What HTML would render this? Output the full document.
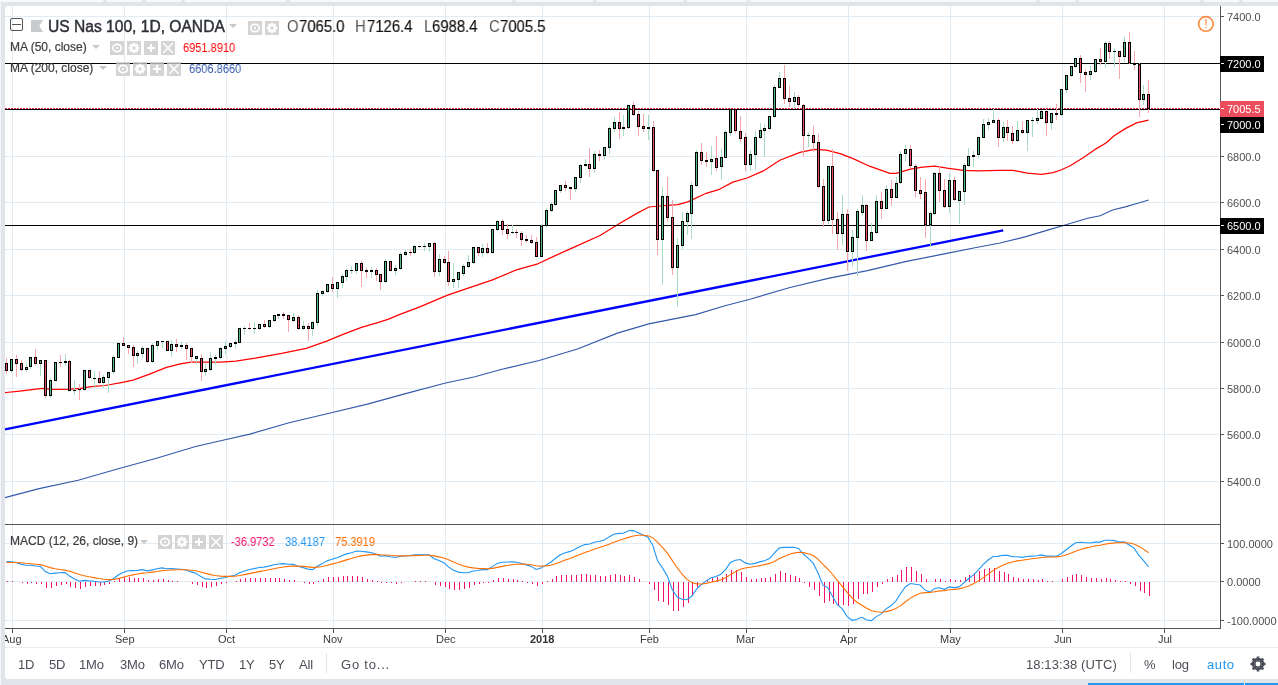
<!DOCTYPE html>
<html><head><meta charset="utf-8">
<style>
.t,.pl,.pb span,.tl,.bt{will-change:transform;}
html,body{margin:0;padding:0;width:1278px;height:685px;overflow:hidden;background:#e1e4e8;font-family:"Liberation Sans",sans-serif;}
.abs{position:absolute;}
#panel{position:absolute;left:5px;top:6px;width:1273px;height:673px;background:#fff;border-radius:3px 0 0 3px;}
.tab{position:absolute;top:-3px;height:5px;background:#f8f9fb;border-radius:0 0 3px 3px;}
svg{position:absolute;left:0;top:0;}
.t{position:absolute;white-space:nowrap;line-height:1;}
.pl{position:absolute;left:1227px;font-size:11px;color:#4f4f4f;line-height:1;white-space:nowrap;}
.pb{position:absolute;left:1220px;width:44px;height:16px;background:#000;color:#fff;}
.pb span{position:absolute;left:7px;top:3px;font-size:11px;line-height:1;}
.tl{position:absolute;top:634px;font-size:11px;color:#3a3a3a;line-height:1;white-space:nowrap;}
.ohlc{top:19px;font-size:16px;transform:scaleX(0.93);transform-origin:0 0;}
.ohlc.v{color:#111;-webkit-text-stroke:0.15px #111;}
.val{font-size:12px;transform:scaleX(0.92);transform-origin:0 0;}
.ic{position:absolute;shape-rendering:geometricPrecision;}
.bt{position:absolute;top:658px;font-size:13px;letter-spacing:-0.2px;color:#4b4e57;line-height:1;white-space:nowrap;}
</style></head><body>
<div class="tab" style="left:0px;width:104px"></div>
<div class="tab" style="left:106px;width:37px"></div>
<div class="tab" style="left:145px;width:37px"></div>
<div class="tab" style="left:184px;width:103px"></div>
<div class="tab" style="left:289px;width:224px"></div>
<div class="tab" style="left:515px;width:79px"></div>
<div class="tab" style="left:596px;width:88px"></div>
<div class="tab" style="left:686px;width:61px"></div>
<div class="tab" style="left:749px;width:288px"></div>
<div class="tab" style="left:1039px;width:37px"></div>
<div class="tab" style="left:1078px;width:123px"></div>
<div class="tab" style="left:1203px;width:37px"></div>
<div class="tab" style="left:1242px;width:40px"></div>
<div class="abs" style="left:1088px;top:683px;width:156px;height:2px;background:#2196f3"></div>
<div class="abs" style="left:1245px;top:683px;width:33px;height:2px;background:#2196f3"></div>
<div class="abs" style="left:0;top:0;width:1px;height:685px;background:#f4f5f7"></div>
<div id="panel"></div>
<svg width="0" height="0" style="position:absolute"><defs>
<g id="i-eye"><rect width="14" height="14" fill="#c9c9c9" fill-opacity="0.8"/><ellipse cx="7" cy="7" rx="4.3" ry="3.6" fill="none" stroke="#fff" stroke-width="1.7"/><circle cx="7" cy="7" r="1.1" fill="#fff"/></g>
<g id="i-gear"><rect width="14" height="14" fill="#c9c9c9" fill-opacity="0.8"/><g transform="translate(7,7)" fill="#fff"><circle r="3.8"/><rect x="-1.2" y="-5.2" width="2.4" height="10.4"/><rect x="-1.2" y="-5.2" width="2.4" height="10.4" transform="rotate(45)"/><rect x="-1.2" y="-5.2" width="2.4" height="10.4" transform="rotate(90)"/><rect x="-1.2" y="-5.2" width="2.4" height="10.4" transform="rotate(135)"/><circle r="1.7" fill="#d4d4d4"/></g></g>
<g id="i-plus"><rect width="14" height="14" fill="#c9c9c9" fill-opacity="0.8"/><rect x="6" y="3" width="2" height="8" fill="#fff"/><rect x="3" y="6" width="8" height="2" fill="#fff"/></g>
<g id="i-x"><rect width="14" height="14" fill="#c9c9c9" fill-opacity="0.8"/><path d="M2.3 2.3L11.7 11.7M11.7 2.3L2.3 11.7" stroke="#fff" stroke-width="1.5"/></g>
</defs></svg>
<svg width="1278" height="685" viewBox="0 0 1278 685" shape-rendering="crispEdges">
<rect x="12" y="6" width="1" height="622" fill="#e1ebf3"/>
<rect x="124" y="6" width="1" height="622" fill="#e1ebf3"/>
<rect x="226" y="6" width="1" height="622" fill="#e1ebf3"/>
<rect x="333" y="6" width="1" height="622" fill="#e1ebf3"/>
<rect x="445" y="6" width="1" height="622" fill="#e1ebf3"/>
<rect x="542" y="6" width="1" height="622" fill="#e1ebf3"/>
<rect x="649" y="6" width="1" height="622" fill="#e1ebf3"/>
<rect x="746" y="6" width="1" height="622" fill="#e1ebf3"/>
<rect x="848" y="6" width="1" height="622" fill="#e1ebf3"/>
<rect x="950" y="6" width="1" height="622" fill="#e1ebf3"/>
<rect x="1062" y="6" width="1" height="622" fill="#e1ebf3"/>
<rect x="1164" y="6" width="1" height="622" fill="#e1ebf3"/>
<rect x="5" y="16" width="1214" height="1" fill="#e1ebf3"/>
<rect x="5" y="63" width="1214" height="1" fill="#e1ebf3"/>
<rect x="5" y="109" width="1214" height="1" fill="#e1ebf3"/>
<rect x="5" y="156" width="1214" height="1" fill="#e1ebf3"/>
<rect x="5" y="202" width="1214" height="1" fill="#e1ebf3"/>
<rect x="5" y="249" width="1214" height="1" fill="#e1ebf3"/>
<rect x="5" y="295" width="1214" height="1" fill="#e1ebf3"/>
<rect x="5" y="342" width="1214" height="1" fill="#e1ebf3"/>
<rect x="5" y="388" width="1214" height="1" fill="#e1ebf3"/>
<rect x="5" y="434" width="1214" height="1" fill="#e1ebf3"/>
<rect x="5" y="481" width="1214" height="1" fill="#e1ebf3"/>
<rect x="5" y="543" width="1214" height="1" fill="#e1ebf3"/>
<rect x="5" y="581" width="1214" height="1" fill="#e1ebf3"/>
<rect x="5" y="620" width="1214" height="1" fill="#e1ebf3"/>
<polyline points="5.0,497.6 5.9,497.4 39.1,488.6 78.2,480.2 117.4,469.0 156.5,458.2 195.6,446.5 225.0,439.7 250.0,434.1 289.1,422.7 328.2,413.5 367.4,404.1 406.5,393.4 445.6,383.0 475.0,376.7 500.0,369.8 539.1,360.5 578.2,348.8 617.4,333.1 648.7,323.9 695.6,314.6 725.0,305.8 750.0,299.2 789.1,287.8 828.2,278.4 867.4,270.6 906.5,261.4 945.6,253.6 975.0,247.7 1000.0,243.0 1025.0,236.9 1050.1,229.4 1062.6,225.7 1087.6,218.2 1100.1,215.7 1112.6,210.0 1125.2,206.9 1137.7,203.2 1148.7,200.0" fill="none" stroke="#3559aa" stroke-width="1.15" shape-rendering="geometricPrecision"/>
<polyline points="5.0,392.6 6.1,392.5 17.5,391.4 28.0,390.2 42.0,388.4 52.5,389.3 66.5,389.3 80.6,388.4 91.1,386.7 105.1,385.5 122.6,382.3 133.1,380.2 148.9,374.4 166.4,367.4 180.4,363.9 190.9,362.2 200.0,362.2 220.4,362.2 235.8,361.1 255.2,358.1 281.7,353.4 306.2,348.3 326.7,341.1 343.0,334.4 361.4,327.4 377.7,322.7 387.9,319.3 400.0,314.4 420.4,306.7 447.0,295.4 467.4,288.3 491.9,280.1 516.4,269.9 536.9,264.2 555.3,255.6 573.6,247.4 600.0,235.5 620.4,223.0 636.8,213.4 649.0,207.0 659.2,206.0 677.6,204.6 687.8,201.9 706.2,193.3 718.5,189.7 732.8,182.1 747.1,178.0 763.4,170.9 779.8,160.2 800.0,152.3 814.3,149.4 826.6,150.2 840.9,153.9 853.1,158.6 869.5,166.2 889.9,173.3 896.0,173.3 910.3,169.2 922.6,167.2 934.8,166.2 947.1,168.2 963.4,170.3 977.7,170.9 1000.0,170.3 1012.9,170.3 1027.3,173.2 1041.8,174.3 1053.0,172.7 1061.0,170.0 1070.7,165.5 1083.5,157.5 1096.4,148.6 1106.0,143.0 1114.1,135.8 1125.3,128.6 1136.5,122.9 1148.6,120.2" fill="none" stroke="#ff0000" stroke-width="1.25" shape-rendering="geometricPrecision"/>
<line x1="5" y1="429.3" x2="1003.2" y2="230.3" stroke="#0000ff" stroke-width="2.3" stroke-linecap="butt" shape-rendering="geometricPrecision"/>
<rect x="5" y="63" width="1215" height="1" fill="#000"/>
<rect x="5" y="109" width="1215" height="1" fill="#000"/>
<rect x="5" y="225" width="1215" height="1" fill="#000"/>
<line x1="5" y1="108.5" x2="1220" y2="108.5" stroke="#e3213f" stroke-width="1" stroke-dasharray="2,1" shape-rendering="crispEdges"/>
<rect x="6" y="358" width="1" height="16" fill="#f5a6ad"/>
<rect x="5" y="363" width="3" height="8" fill="#000"/>
<rect x="6" y="364" width="1" height="6" fill="#eb4d5c"/>
<rect x="11" y="359" width="1" height="14" fill="#a9dcc3"/>
<rect x="10" y="359" width="3" height="12" fill="#000"/>
<rect x="11" y="360" width="1" height="10" fill="#53b987"/>
<rect x="16" y="355" width="1" height="22" fill="#f5a6ad"/>
<rect x="15" y="359" width="3" height="5" fill="#000"/>
<rect x="16" y="360" width="1" height="3" fill="#eb4d5c"/>
<rect x="21" y="360" width="1" height="11" fill="#f5a6ad"/>
<rect x="20" y="363" width="3" height="7" fill="#000"/>
<rect x="21" y="364" width="1" height="5" fill="#eb4d5c"/>
<rect x="26" y="363" width="1" height="9" fill="#a9dcc3"/>
<rect x="25" y="367" width="3" height="3" fill="#000"/>
<rect x="26" y="368" width="1" height="1" fill="#53b987"/>
<rect x="30" y="357" width="1" height="12" fill="#a9dcc3"/>
<rect x="29" y="357" width="3" height="10" fill="#000"/>
<rect x="30" y="358" width="1" height="8" fill="#53b987"/>
<rect x="35" y="349" width="1" height="16" fill="#f5a6ad"/>
<rect x="34" y="357" width="3" height="7" fill="#000"/>
<rect x="35" y="358" width="1" height="5" fill="#eb4d5c"/>
<rect x="40" y="360" width="1" height="16" fill="#a9dcc3"/>
<rect x="39" y="360" width="3" height="4" fill="#000"/>
<rect x="40" y="361" width="1" height="2" fill="#53b987"/>
<rect x="45" y="360" width="1" height="38" fill="#f5a6ad"/>
<rect x="44" y="360" width="3" height="36" fill="#000"/>
<rect x="45" y="361" width="1" height="34" fill="#eb4d5c"/>
<rect x="50" y="378" width="1" height="20" fill="#a9dcc3"/>
<rect x="49" y="380" width="3" height="16" fill="#000"/>
<rect x="50" y="381" width="1" height="14" fill="#53b987"/>
<rect x="55" y="362" width="1" height="19" fill="#a9dcc3"/>
<rect x="54" y="362" width="3" height="19" fill="#000"/>
<rect x="55" y="363" width="1" height="17" fill="#53b987"/>
<rect x="60" y="355" width="1" height="12" fill="#f5a6ad"/>
<rect x="59" y="362" width="3" height="1" fill="#000"/>
<rect x="65" y="354" width="1" height="12" fill="#a9dcc3"/>
<rect x="64" y="361" width="3" height="2" fill="#000"/>
<rect x="69" y="360" width="1" height="31" fill="#f5a6ad"/>
<rect x="68" y="361" width="3" height="30" fill="#000"/>
<rect x="69" y="362" width="1" height="28" fill="#eb4d5c"/>
<rect x="74" y="380" width="1" height="15" fill="#a9dcc3"/>
<rect x="73" y="390" width="3" height="1" fill="#000"/>
<rect x="79" y="384" width="1" height="16" fill="#f5a6ad"/>
<rect x="78" y="389" width="3" height="1" fill="#000"/>
<rect x="84" y="370" width="1" height="21" fill="#a9dcc3"/>
<rect x="83" y="370" width="3" height="20" fill="#000"/>
<rect x="84" y="371" width="1" height="18" fill="#53b987"/>
<rect x="89" y="370" width="1" height="9" fill="#f5a6ad"/>
<rect x="88" y="370" width="3" height="8" fill="#000"/>
<rect x="89" y="371" width="1" height="6" fill="#eb4d5c"/>
<rect x="94" y="371" width="1" height="17" fill="#a9dcc3"/>
<rect x="93" y="378" width="3" height="1" fill="#000"/>
<rect x="99" y="371" width="1" height="13" fill="#f5a6ad"/>
<rect x="98" y="378" width="3" height="5" fill="#000"/>
<rect x="99" y="379" width="1" height="3" fill="#eb4d5c"/>
<rect x="103" y="375" width="1" height="13" fill="#a9dcc3"/>
<rect x="102" y="377" width="3" height="6" fill="#000"/>
<rect x="103" y="378" width="1" height="4" fill="#53b987"/>
<rect x="108" y="372" width="1" height="21" fill="#a9dcc3"/>
<rect x="107" y="372" width="3" height="6" fill="#000"/>
<rect x="108" y="373" width="1" height="4" fill="#53b987"/>
<rect x="113" y="355" width="1" height="19" fill="#a9dcc3"/>
<rect x="112" y="357" width="3" height="15" fill="#000"/>
<rect x="113" y="358" width="1" height="13" fill="#53b987"/>
<rect x="118" y="342" width="1" height="16" fill="#a9dcc3"/>
<rect x="117" y="343" width="3" height="15" fill="#000"/>
<rect x="118" y="344" width="1" height="13" fill="#53b987"/>
<rect x="123" y="337" width="1" height="9" fill="#f5a6ad"/>
<rect x="122" y="343" width="3" height="3" fill="#000"/>
<rect x="123" y="344" width="1" height="1" fill="#eb4d5c"/>
<rect x="128" y="345" width="1" height="9" fill="#f5a6ad"/>
<rect x="127" y="345" width="3" height="3" fill="#000"/>
<rect x="128" y="346" width="1" height="1" fill="#eb4d5c"/>
<rect x="133" y="345" width="1" height="22" fill="#f5a6ad"/>
<rect x="132" y="347" width="3" height="9" fill="#000"/>
<rect x="133" y="348" width="1" height="7" fill="#eb4d5c"/>
<rect x="137" y="350" width="1" height="14" fill="#a9dcc3"/>
<rect x="136" y="353" width="3" height="3" fill="#000"/>
<rect x="137" y="354" width="1" height="1" fill="#53b987"/>
<rect x="142" y="346" width="1" height="12" fill="#a9dcc3"/>
<rect x="141" y="348" width="3" height="6" fill="#000"/>
<rect x="142" y="349" width="1" height="4" fill="#53b987"/>
<rect x="147" y="348" width="1" height="15" fill="#f5a6ad"/>
<rect x="146" y="348" width="3" height="14" fill="#000"/>
<rect x="147" y="349" width="1" height="12" fill="#eb4d5c"/>
<rect x="152" y="343" width="1" height="20" fill="#a9dcc3"/>
<rect x="151" y="345" width="3" height="17" fill="#000"/>
<rect x="152" y="346" width="1" height="15" fill="#53b987"/>
<rect x="157" y="341" width="1" height="9" fill="#a9dcc3"/>
<rect x="156" y="341" width="3" height="5" fill="#000"/>
<rect x="157" y="342" width="1" height="3" fill="#53b987"/>
<rect x="162" y="341" width="1" height="7" fill="#a9dcc3"/>
<rect x="161" y="341" width="3" height="1" fill="#000"/>
<rect x="167" y="341" width="1" height="10" fill="#f5a6ad"/>
<rect x="166" y="341" width="3" height="10" fill="#000"/>
<rect x="167" y="342" width="1" height="8" fill="#eb4d5c"/>
<rect x="171" y="340" width="1" height="17" fill="#a9dcc3"/>
<rect x="170" y="344" width="3" height="7" fill="#000"/>
<rect x="171" y="345" width="1" height="5" fill="#53b987"/>
<rect x="176" y="339" width="1" height="13" fill="#f5a6ad"/>
<rect x="175" y="344" width="3" height="3" fill="#000"/>
<rect x="176" y="345" width="1" height="1" fill="#eb4d5c"/>
<rect x="181" y="342" width="1" height="7" fill="#a9dcc3"/>
<rect x="180" y="345" width="3" height="2" fill="#000"/>
<rect x="186" y="343" width="1" height="17" fill="#f5a6ad"/>
<rect x="185" y="345" width="3" height="4" fill="#000"/>
<rect x="186" y="346" width="1" height="2" fill="#eb4d5c"/>
<rect x="191" y="348" width="1" height="15" fill="#f5a6ad"/>
<rect x="190" y="348" width="3" height="9" fill="#000"/>
<rect x="191" y="349" width="1" height="7" fill="#eb4d5c"/>
<rect x="196" y="356" width="1" height="8" fill="#a9dcc3"/>
<rect x="195" y="356" width="3" height="3" fill="#000"/>
<rect x="196" y="357" width="1" height="1" fill="#53b987"/>
<rect x="201" y="354" width="1" height="27" fill="#f5a6ad"/>
<rect x="200" y="358" width="3" height="14" fill="#000"/>
<rect x="201" y="359" width="1" height="12" fill="#eb4d5c"/>
<rect x="205" y="364" width="1" height="12" fill="#a9dcc3"/>
<rect x="204" y="369" width="3" height="3" fill="#000"/>
<rect x="205" y="370" width="1" height="1" fill="#53b987"/>
<rect x="210" y="352" width="1" height="19" fill="#a9dcc3"/>
<rect x="209" y="358" width="3" height="12" fill="#000"/>
<rect x="210" y="359" width="1" height="10" fill="#53b987"/>
<rect x="215" y="355" width="1" height="10" fill="#a9dcc3"/>
<rect x="214" y="357" width="3" height="2" fill="#000"/>
<rect x="220" y="347" width="1" height="12" fill="#a9dcc3"/>
<rect x="219" y="348" width="3" height="10" fill="#000"/>
<rect x="220" y="349" width="1" height="8" fill="#53b987"/>
<rect x="225" y="341" width="1" height="13" fill="#a9dcc3"/>
<rect x="224" y="346" width="3" height="3" fill="#000"/>
<rect x="225" y="347" width="1" height="1" fill="#53b987"/>
<rect x="230" y="343" width="1" height="5" fill="#a9dcc3"/>
<rect x="229" y="343" width="3" height="4" fill="#000"/>
<rect x="230" y="344" width="1" height="2" fill="#53b987"/>
<rect x="235" y="340" width="1" height="9" fill="#a9dcc3"/>
<rect x="234" y="342" width="3" height="2" fill="#000"/>
<rect x="239" y="328" width="1" height="15" fill="#a9dcc3"/>
<rect x="238" y="328" width="3" height="15" fill="#000"/>
<rect x="239" y="329" width="1" height="13" fill="#53b987"/>
<rect x="244" y="326" width="1" height="9" fill="#a9dcc3"/>
<rect x="243" y="328" width="3" height="1" fill="#000"/>
<rect x="249" y="323" width="1" height="7" fill="#f5a6ad"/>
<rect x="248" y="328" width="3" height="1" fill="#000"/>
<rect x="254" y="322" width="1" height="12" fill="#a9dcc3"/>
<rect x="253" y="328" width="3" height="1" fill="#000"/>
<rect x="259" y="324" width="1" height="6" fill="#a9dcc3"/>
<rect x="258" y="324" width="3" height="5" fill="#000"/>
<rect x="259" y="325" width="1" height="3" fill="#53b987"/>
<rect x="264" y="320" width="1" height="8" fill="#f5a6ad"/>
<rect x="263" y="324" width="3" height="3" fill="#000"/>
<rect x="264" y="325" width="1" height="1" fill="#eb4d5c"/>
<rect x="269" y="320" width="1" height="8" fill="#a9dcc3"/>
<rect x="268" y="320" width="3" height="7" fill="#000"/>
<rect x="269" y="321" width="1" height="5" fill="#53b987"/>
<rect x="274" y="315" width="1" height="7" fill="#a9dcc3"/>
<rect x="273" y="315" width="3" height="6" fill="#000"/>
<rect x="274" y="316" width="1" height="4" fill="#53b987"/>
<rect x="278" y="314" width="1" height="5" fill="#a9dcc3"/>
<rect x="277" y="314" width="3" height="2" fill="#000"/>
<rect x="283" y="312" width="1" height="7" fill="#f5a6ad"/>
<rect x="282" y="314" width="3" height="2" fill="#000"/>
<rect x="288" y="315" width="1" height="17" fill="#f5a6ad"/>
<rect x="287" y="315" width="3" height="5" fill="#000"/>
<rect x="288" y="316" width="1" height="3" fill="#eb4d5c"/>
<rect x="293" y="313" width="1" height="9" fill="#a9dcc3"/>
<rect x="292" y="317" width="3" height="4" fill="#000"/>
<rect x="293" y="318" width="1" height="2" fill="#53b987"/>
<rect x="298" y="315" width="1" height="15" fill="#f5a6ad"/>
<rect x="297" y="317" width="3" height="12" fill="#000"/>
<rect x="298" y="318" width="1" height="10" fill="#eb4d5c"/>
<rect x="303" y="321" width="1" height="9" fill="#a9dcc3"/>
<rect x="302" y="326" width="3" height="3" fill="#000"/>
<rect x="303" y="327" width="1" height="1" fill="#53b987"/>
<rect x="308" y="323" width="1" height="18" fill="#f5a6ad"/>
<rect x="307" y="326" width="3" height="3" fill="#000"/>
<rect x="308" y="327" width="1" height="1" fill="#eb4d5c"/>
<rect x="312" y="321" width="1" height="15" fill="#a9dcc3"/>
<rect x="311" y="322" width="3" height="7" fill="#000"/>
<rect x="312" y="323" width="1" height="5" fill="#53b987"/>
<rect x="317" y="290" width="1" height="36" fill="#a9dcc3"/>
<rect x="316" y="293" width="3" height="30" fill="#000"/>
<rect x="317" y="294" width="1" height="28" fill="#53b987"/>
<rect x="322" y="290" width="1" height="6" fill="#a9dcc3"/>
<rect x="321" y="291" width="3" height="3" fill="#000"/>
<rect x="322" y="292" width="1" height="1" fill="#53b987"/>
<rect x="327" y="284" width="1" height="9" fill="#a9dcc3"/>
<rect x="326" y="284" width="3" height="8" fill="#000"/>
<rect x="327" y="285" width="1" height="6" fill="#53b987"/>
<rect x="332" y="277" width="1" height="15" fill="#f5a6ad"/>
<rect x="331" y="284" width="3" height="5" fill="#000"/>
<rect x="332" y="285" width="1" height="3" fill="#eb4d5c"/>
<rect x="337" y="282" width="1" height="16" fill="#a9dcc3"/>
<rect x="336" y="282" width="3" height="7" fill="#000"/>
<rect x="337" y="283" width="1" height="5" fill="#53b987"/>
<rect x="342" y="274" width="1" height="14" fill="#a9dcc3"/>
<rect x="341" y="276" width="3" height="7" fill="#000"/>
<rect x="342" y="277" width="1" height="5" fill="#53b987"/>
<rect x="346" y="269" width="1" height="12" fill="#a9dcc3"/>
<rect x="345" y="270" width="3" height="7" fill="#000"/>
<rect x="346" y="271" width="1" height="5" fill="#53b987"/>
<rect x="351" y="266" width="1" height="8" fill="#a9dcc3"/>
<rect x="350" y="270" width="3" height="1" fill="#000"/>
<rect x="356" y="263" width="1" height="11" fill="#a9dcc3"/>
<rect x="355" y="263" width="3" height="8" fill="#000"/>
<rect x="356" y="264" width="1" height="6" fill="#53b987"/>
<rect x="361" y="261" width="1" height="26" fill="#f5a6ad"/>
<rect x="360" y="263" width="3" height="8" fill="#000"/>
<rect x="361" y="264" width="1" height="6" fill="#eb4d5c"/>
<rect x="366" y="268" width="1" height="10" fill="#f5a6ad"/>
<rect x="365" y="270" width="3" height="2" fill="#000"/>
<rect x="371" y="267" width="1" height="11" fill="#a9dcc3"/>
<rect x="370" y="270" width="3" height="2" fill="#000"/>
<rect x="376" y="268" width="1" height="13" fill="#f5a6ad"/>
<rect x="375" y="270" width="3" height="5" fill="#000"/>
<rect x="376" y="271" width="1" height="3" fill="#eb4d5c"/>
<rect x="380" y="274" width="1" height="16" fill="#f5a6ad"/>
<rect x="379" y="274" width="3" height="8" fill="#000"/>
<rect x="380" y="275" width="1" height="6" fill="#eb4d5c"/>
<rect x="385" y="259" width="1" height="24" fill="#a9dcc3"/>
<rect x="384" y="261" width="3" height="21" fill="#000"/>
<rect x="385" y="262" width="1" height="19" fill="#53b987"/>
<rect x="390" y="261" width="1" height="10" fill="#f5a6ad"/>
<rect x="389" y="261" width="3" height="10" fill="#000"/>
<rect x="390" y="262" width="1" height="8" fill="#eb4d5c"/>
<rect x="395" y="265" width="1" height="10" fill="#a9dcc3"/>
<rect x="394" y="268" width="3" height="3" fill="#000"/>
<rect x="395" y="269" width="1" height="1" fill="#53b987"/>
<rect x="400" y="252" width="1" height="18" fill="#a9dcc3"/>
<rect x="399" y="254" width="3" height="15" fill="#000"/>
<rect x="400" y="255" width="1" height="13" fill="#53b987"/>
<rect x="405" y="250" width="1" height="6" fill="#a9dcc3"/>
<rect x="404" y="252" width="3" height="3" fill="#000"/>
<rect x="405" y="253" width="1" height="1" fill="#53b987"/>
<rect x="410" y="249" width="1" height="7" fill="#f5a6ad"/>
<rect x="409" y="252" width="3" height="1" fill="#000"/>
<rect x="414" y="245" width="1" height="9" fill="#a9dcc3"/>
<rect x="413" y="246" width="3" height="7" fill="#000"/>
<rect x="414" y="247" width="1" height="5" fill="#53b987"/>
<rect x="419" y="246" width="1" height="2" fill="#a9dcc3"/>
<rect x="418" y="246" width="3" height="1" fill="#000"/>
<rect x="424" y="243" width="1" height="8" fill="#a9dcc3"/>
<rect x="423" y="246" width="3" height="1" fill="#000"/>
<rect x="429" y="243" width="1" height="9" fill="#a9dcc3"/>
<rect x="428" y="243" width="3" height="4" fill="#000"/>
<rect x="429" y="244" width="1" height="2" fill="#53b987"/>
<rect x="434" y="242" width="1" height="35" fill="#f5a6ad"/>
<rect x="433" y="243" width="3" height="29" fill="#000"/>
<rect x="434" y="244" width="1" height="27" fill="#eb4d5c"/>
<rect x="439" y="254" width="1" height="22" fill="#a9dcc3"/>
<rect x="438" y="259" width="3" height="13" fill="#000"/>
<rect x="439" y="260" width="1" height="11" fill="#53b987"/>
<rect x="444" y="256" width="1" height="8" fill="#f5a6ad"/>
<rect x="443" y="259" width="3" height="4" fill="#000"/>
<rect x="444" y="260" width="1" height="2" fill="#eb4d5c"/>
<rect x="448" y="251" width="1" height="35" fill="#f5a6ad"/>
<rect x="447" y="262" width="3" height="20" fill="#000"/>
<rect x="448" y="263" width="1" height="18" fill="#eb4d5c"/>
<rect x="453" y="263" width="1" height="25" fill="#a9dcc3"/>
<rect x="452" y="279" width="3" height="3" fill="#000"/>
<rect x="453" y="280" width="1" height="1" fill="#53b987"/>
<rect x="458" y="272" width="1" height="16" fill="#a9dcc3"/>
<rect x="457" y="272" width="3" height="8" fill="#000"/>
<rect x="458" y="273" width="1" height="6" fill="#53b987"/>
<rect x="463" y="264" width="1" height="12" fill="#a9dcc3"/>
<rect x="462" y="266" width="3" height="8" fill="#000"/>
<rect x="463" y="267" width="1" height="6" fill="#53b987"/>
<rect x="468" y="255" width="1" height="13" fill="#a9dcc3"/>
<rect x="467" y="262" width="3" height="5" fill="#000"/>
<rect x="468" y="263" width="1" height="3" fill="#53b987"/>
<rect x="473" y="247" width="1" height="17" fill="#a9dcc3"/>
<rect x="472" y="247" width="3" height="16" fill="#000"/>
<rect x="473" y="248" width="1" height="14" fill="#53b987"/>
<rect x="478" y="247" width="1" height="9" fill="#f5a6ad"/>
<rect x="477" y="247" width="3" height="6" fill="#000"/>
<rect x="478" y="248" width="1" height="4" fill="#eb4d5c"/>
<rect x="482" y="244" width="1" height="13" fill="#a9dcc3"/>
<rect x="481" y="248" width="3" height="5" fill="#000"/>
<rect x="482" y="249" width="1" height="3" fill="#53b987"/>
<rect x="487" y="243" width="1" height="11" fill="#f5a6ad"/>
<rect x="486" y="248" width="3" height="5" fill="#000"/>
<rect x="487" y="249" width="1" height="3" fill="#eb4d5c"/>
<rect x="492" y="229" width="1" height="25" fill="#a9dcc3"/>
<rect x="491" y="229" width="3" height="24" fill="#000"/>
<rect x="492" y="230" width="1" height="22" fill="#53b987"/>
<rect x="497" y="220" width="1" height="11" fill="#a9dcc3"/>
<rect x="496" y="221" width="3" height="9" fill="#000"/>
<rect x="497" y="222" width="1" height="7" fill="#53b987"/>
<rect x="502" y="219" width="1" height="16" fill="#f5a6ad"/>
<rect x="501" y="221" width="3" height="9" fill="#000"/>
<rect x="502" y="222" width="1" height="7" fill="#eb4d5c"/>
<rect x="507" y="224" width="1" height="15" fill="#f5a6ad"/>
<rect x="506" y="229" width="3" height="5" fill="#000"/>
<rect x="507" y="230" width="1" height="3" fill="#eb4d5c"/>
<rect x="512" y="225" width="1" height="9" fill="#a9dcc3"/>
<rect x="511" y="232" width="3" height="1" fill="#000"/>
<rect x="516" y="229" width="1" height="9" fill="#f5a6ad"/>
<rect x="515" y="232" width="3" height="1" fill="#000"/>
<rect x="521" y="231" width="1" height="15" fill="#f5a6ad"/>
<rect x="520" y="233" width="3" height="7" fill="#000"/>
<rect x="521" y="234" width="1" height="5" fill="#eb4d5c"/>
<rect x="526" y="235" width="1" height="8" fill="#f5a6ad"/>
<rect x="525" y="239" width="3" height="2" fill="#000"/>
<rect x="531" y="235" width="1" height="9" fill="#f5a6ad"/>
<rect x="530" y="240" width="3" height="3" fill="#000"/>
<rect x="531" y="241" width="1" height="1" fill="#eb4d5c"/>
<rect x="536" y="237" width="1" height="20" fill="#f5a6ad"/>
<rect x="535" y="242" width="3" height="15" fill="#000"/>
<rect x="536" y="243" width="1" height="13" fill="#eb4d5c"/>
<rect x="541" y="224" width="1" height="33" fill="#a9dcc3"/>
<rect x="540" y="226" width="3" height="31" fill="#000"/>
<rect x="541" y="227" width="1" height="29" fill="#53b987"/>
<rect x="546" y="208" width="1" height="20" fill="#a9dcc3"/>
<rect x="545" y="210" width="3" height="16" fill="#000"/>
<rect x="546" y="211" width="1" height="14" fill="#53b987"/>
<rect x="551" y="202" width="1" height="10" fill="#a9dcc3"/>
<rect x="550" y="204" width="3" height="7" fill="#000"/>
<rect x="551" y="205" width="1" height="5" fill="#53b987"/>
<rect x="555" y="190" width="1" height="16" fill="#a9dcc3"/>
<rect x="554" y="190" width="3" height="15" fill="#000"/>
<rect x="555" y="191" width="1" height="13" fill="#53b987"/>
<rect x="560" y="185" width="1" height="8" fill="#a9dcc3"/>
<rect x="559" y="185" width="3" height="6" fill="#000"/>
<rect x="560" y="186" width="1" height="4" fill="#53b987"/>
<rect x="565" y="181" width="1" height="10" fill="#f5a6ad"/>
<rect x="564" y="185" width="3" height="3" fill="#000"/>
<rect x="565" y="186" width="1" height="1" fill="#eb4d5c"/>
<rect x="570" y="187" width="1" height="13" fill="#f5a6ad"/>
<rect x="569" y="187" width="3" height="2" fill="#000"/>
<rect x="575" y="177" width="1" height="15" fill="#a9dcc3"/>
<rect x="574" y="177" width="3" height="12" fill="#000"/>
<rect x="575" y="178" width="1" height="10" fill="#53b987"/>
<rect x="580" y="164" width="1" height="19" fill="#a9dcc3"/>
<rect x="579" y="165" width="3" height="13" fill="#000"/>
<rect x="580" y="166" width="1" height="11" fill="#53b987"/>
<rect x="585" y="159" width="1" height="8" fill="#a9dcc3"/>
<rect x="584" y="164" width="3" height="2" fill="#000"/>
<rect x="589" y="148" width="1" height="29" fill="#f5a6ad"/>
<rect x="588" y="164" width="3" height="5" fill="#000"/>
<rect x="589" y="165" width="1" height="3" fill="#eb4d5c"/>
<rect x="594" y="151" width="1" height="22" fill="#a9dcc3"/>
<rect x="593" y="154" width="3" height="15" fill="#000"/>
<rect x="594" y="155" width="1" height="13" fill="#53b987"/>
<rect x="599" y="150" width="1" height="11" fill="#f5a6ad"/>
<rect x="598" y="154" width="3" height="2" fill="#000"/>
<rect x="604" y="147" width="1" height="13" fill="#a9dcc3"/>
<rect x="603" y="147" width="3" height="9" fill="#000"/>
<rect x="604" y="148" width="1" height="7" fill="#53b987"/>
<rect x="609" y="126" width="1" height="28" fill="#a9dcc3"/>
<rect x="608" y="128" width="3" height="20" fill="#000"/>
<rect x="609" y="129" width="1" height="18" fill="#53b987"/>
<rect x="614" y="117" width="1" height="15" fill="#a9dcc3"/>
<rect x="613" y="122" width="3" height="7" fill="#000"/>
<rect x="614" y="123" width="1" height="5" fill="#53b987"/>
<rect x="619" y="112" width="1" height="27" fill="#f5a6ad"/>
<rect x="618" y="122" width="3" height="7" fill="#000"/>
<rect x="619" y="123" width="1" height="5" fill="#eb4d5c"/>
<rect x="623" y="115" width="1" height="21" fill="#a9dcc3"/>
<rect x="622" y="127" width="3" height="2" fill="#000"/>
<rect x="628" y="105" width="1" height="24" fill="#a9dcc3"/>
<rect x="627" y="105" width="3" height="23" fill="#000"/>
<rect x="628" y="106" width="1" height="21" fill="#53b987"/>
<rect x="633" y="102" width="1" height="14" fill="#f5a6ad"/>
<rect x="632" y="105" width="3" height="10" fill="#000"/>
<rect x="633" y="106" width="1" height="8" fill="#eb4d5c"/>
<rect x="638" y="111" width="1" height="25" fill="#f5a6ad"/>
<rect x="637" y="114" width="3" height="13" fill="#000"/>
<rect x="638" y="115" width="1" height="11" fill="#eb4d5c"/>
<rect x="643" y="114" width="1" height="18" fill="#f5a6ad"/>
<rect x="642" y="126" width="3" height="3" fill="#000"/>
<rect x="643" y="127" width="1" height="1" fill="#eb4d5c"/>
<rect x="648" y="115" width="1" height="25" fill="#a9dcc3"/>
<rect x="647" y="127" width="3" height="2" fill="#000"/>
<rect x="653" y="121" width="1" height="51" fill="#f5a6ad"/>
<rect x="652" y="127" width="3" height="44" fill="#000"/>
<rect x="653" y="128" width="1" height="42" fill="#eb4d5c"/>
<rect x="657" y="170" width="1" height="85" fill="#f5a6ad"/>
<rect x="656" y="170" width="3" height="70" fill="#000"/>
<rect x="657" y="171" width="1" height="68" fill="#eb4d5c"/>
<rect x="662" y="187" width="1" height="98" fill="#a9dcc3"/>
<rect x="661" y="196" width="3" height="44" fill="#000"/>
<rect x="662" y="197" width="1" height="42" fill="#53b987"/>
<rect x="667" y="177" width="1" height="45" fill="#f5a6ad"/>
<rect x="666" y="196" width="3" height="22" fill="#000"/>
<rect x="667" y="197" width="1" height="20" fill="#eb4d5c"/>
<rect x="672" y="200" width="1" height="75" fill="#f5a6ad"/>
<rect x="671" y="217" width="3" height="51" fill="#000"/>
<rect x="672" y="218" width="1" height="49" fill="#eb4d5c"/>
<rect x="677" y="238" width="1" height="69" fill="#a9dcc3"/>
<rect x="676" y="245" width="3" height="23" fill="#000"/>
<rect x="677" y="246" width="1" height="21" fill="#53b987"/>
<rect x="682" y="212" width="1" height="37" fill="#a9dcc3"/>
<rect x="681" y="221" width="3" height="25" fill="#000"/>
<rect x="682" y="222" width="1" height="23" fill="#53b987"/>
<rect x="687" y="211" width="1" height="24" fill="#a9dcc3"/>
<rect x="686" y="213" width="3" height="9" fill="#000"/>
<rect x="687" y="214" width="1" height="7" fill="#53b987"/>
<rect x="691" y="182" width="1" height="57" fill="#a9dcc3"/>
<rect x="690" y="185" width="3" height="29" fill="#000"/>
<rect x="691" y="186" width="1" height="27" fill="#53b987"/>
<rect x="696" y="150" width="1" height="37" fill="#a9dcc3"/>
<rect x="695" y="152" width="3" height="34" fill="#000"/>
<rect x="696" y="153" width="1" height="32" fill="#53b987"/>
<rect x="701" y="143" width="1" height="22" fill="#f5a6ad"/>
<rect x="700" y="152" width="3" height="9" fill="#000"/>
<rect x="701" y="153" width="1" height="7" fill="#eb4d5c"/>
<rect x="706" y="152" width="1" height="15" fill="#f5a6ad"/>
<rect x="705" y="160" width="3" height="2" fill="#000"/>
<rect x="711" y="146" width="1" height="29" fill="#a9dcc3"/>
<rect x="710" y="159" width="3" height="3" fill="#000"/>
<rect x="711" y="160" width="1" height="1" fill="#53b987"/>
<rect x="716" y="136" width="1" height="35" fill="#f5a6ad"/>
<rect x="715" y="158" width="3" height="10" fill="#000"/>
<rect x="716" y="159" width="1" height="8" fill="#eb4d5c"/>
<rect x="721" y="149" width="1" height="31" fill="#a9dcc3"/>
<rect x="720" y="157" width="3" height="10" fill="#000"/>
<rect x="721" y="158" width="1" height="8" fill="#53b987"/>
<rect x="725" y="130" width="1" height="28" fill="#a9dcc3"/>
<rect x="724" y="132" width="3" height="26" fill="#000"/>
<rect x="725" y="133" width="1" height="24" fill="#53b987"/>
<rect x="730" y="108" width="1" height="28" fill="#a9dcc3"/>
<rect x="729" y="109" width="3" height="24" fill="#000"/>
<rect x="730" y="110" width="1" height="22" fill="#53b987"/>
<rect x="735" y="108" width="1" height="25" fill="#f5a6ad"/>
<rect x="734" y="109" width="3" height="22" fill="#000"/>
<rect x="735" y="110" width="1" height="20" fill="#eb4d5c"/>
<rect x="740" y="116" width="1" height="26" fill="#f5a6ad"/>
<rect x="739" y="131" width="3" height="8" fill="#000"/>
<rect x="740" y="132" width="1" height="6" fill="#eb4d5c"/>
<rect x="745" y="133" width="1" height="38" fill="#f5a6ad"/>
<rect x="744" y="137" width="3" height="28" fill="#000"/>
<rect x="745" y="138" width="1" height="26" fill="#eb4d5c"/>
<rect x="750" y="150" width="1" height="21" fill="#a9dcc3"/>
<rect x="749" y="154" width="3" height="11" fill="#000"/>
<rect x="750" y="155" width="1" height="9" fill="#53b987"/>
<rect x="755" y="131" width="1" height="39" fill="#a9dcc3"/>
<rect x="754" y="137" width="3" height="18" fill="#000"/>
<rect x="755" y="138" width="1" height="16" fill="#53b987"/>
<rect x="760" y="123" width="1" height="16" fill="#a9dcc3"/>
<rect x="759" y="130" width="3" height="8" fill="#000"/>
<rect x="760" y="131" width="1" height="6" fill="#53b987"/>
<rect x="764" y="124" width="1" height="33" fill="#a9dcc3"/>
<rect x="763" y="128" width="3" height="3" fill="#000"/>
<rect x="764" y="129" width="1" height="1" fill="#53b987"/>
<rect x="769" y="116" width="1" height="14" fill="#a9dcc3"/>
<rect x="768" y="116" width="3" height="13" fill="#000"/>
<rect x="769" y="117" width="1" height="11" fill="#53b987"/>
<rect x="774" y="85" width="1" height="33" fill="#a9dcc3"/>
<rect x="773" y="87" width="3" height="30" fill="#000"/>
<rect x="774" y="88" width="1" height="28" fill="#53b987"/>
<rect x="779" y="72" width="1" height="16" fill="#a9dcc3"/>
<rect x="778" y="78" width="3" height="10" fill="#000"/>
<rect x="779" y="79" width="1" height="8" fill="#53b987"/>
<rect x="784" y="65" width="1" height="39" fill="#f5a6ad"/>
<rect x="783" y="78" width="3" height="21" fill="#000"/>
<rect x="784" y="79" width="1" height="19" fill="#eb4d5c"/>
<rect x="789" y="86" width="1" height="21" fill="#f5a6ad"/>
<rect x="788" y="98" width="3" height="4" fill="#000"/>
<rect x="789" y="99" width="1" height="2" fill="#eb4d5c"/>
<rect x="794" y="92" width="1" height="17" fill="#a9dcc3"/>
<rect x="793" y="97" width="3" height="5" fill="#000"/>
<rect x="794" y="98" width="1" height="3" fill="#53b987"/>
<rect x="798" y="95" width="1" height="12" fill="#f5a6ad"/>
<rect x="797" y="97" width="3" height="8" fill="#000"/>
<rect x="798" y="98" width="1" height="6" fill="#eb4d5c"/>
<rect x="803" y="104" width="1" height="53" fill="#f5a6ad"/>
<rect x="802" y="105" width="3" height="31" fill="#000"/>
<rect x="803" y="106" width="1" height="29" fill="#eb4d5c"/>
<rect x="808" y="132" width="1" height="15" fill="#a9dcc3"/>
<rect x="807" y="135" width="3" height="1" fill="#000"/>
<rect x="813" y="126" width="1" height="26" fill="#f5a6ad"/>
<rect x="812" y="135" width="3" height="8" fill="#000"/>
<rect x="813" y="136" width="1" height="6" fill="#eb4d5c"/>
<rect x="818" y="134" width="1" height="54" fill="#f5a6ad"/>
<rect x="817" y="142" width="3" height="45" fill="#000"/>
<rect x="818" y="143" width="1" height="43" fill="#eb4d5c"/>
<rect x="823" y="179" width="1" height="48" fill="#f5a6ad"/>
<rect x="822" y="186" width="3" height="35" fill="#000"/>
<rect x="823" y="187" width="1" height="33" fill="#eb4d5c"/>
<rect x="828" y="166" width="1" height="58" fill="#a9dcc3"/>
<rect x="827" y="166" width="3" height="55" fill="#000"/>
<rect x="828" y="167" width="1" height="53" fill="#53b987"/>
<rect x="832" y="149" width="1" height="85" fill="#f5a6ad"/>
<rect x="831" y="166" width="3" height="54" fill="#000"/>
<rect x="832" y="167" width="1" height="52" fill="#eb4d5c"/>
<rect x="837" y="212" width="1" height="38" fill="#f5a6ad"/>
<rect x="836" y="219" width="3" height="15" fill="#000"/>
<rect x="837" y="220" width="1" height="13" fill="#eb4d5c"/>
<rect x="842" y="195" width="1" height="50" fill="#a9dcc3"/>
<rect x="841" y="214" width="3" height="20" fill="#000"/>
<rect x="842" y="215" width="1" height="18" fill="#53b987"/>
<rect x="847" y="209" width="1" height="62" fill="#f5a6ad"/>
<rect x="846" y="214" width="3" height="38" fill="#000"/>
<rect x="847" y="215" width="1" height="36" fill="#eb4d5c"/>
<rect x="852" y="230" width="1" height="36" fill="#a9dcc3"/>
<rect x="851" y="237" width="3" height="15" fill="#000"/>
<rect x="852" y="238" width="1" height="13" fill="#53b987"/>
<rect x="857" y="209" width="1" height="67" fill="#a9dcc3"/>
<rect x="856" y="211" width="3" height="27" fill="#000"/>
<rect x="857" y="212" width="1" height="25" fill="#53b987"/>
<rect x="862" y="195" width="1" height="21" fill="#a9dcc3"/>
<rect x="861" y="205" width="3" height="8" fill="#000"/>
<rect x="862" y="206" width="1" height="6" fill="#53b987"/>
<rect x="866" y="204" width="1" height="47" fill="#f5a6ad"/>
<rect x="865" y="205" width="3" height="36" fill="#000"/>
<rect x="866" y="206" width="1" height="34" fill="#eb4d5c"/>
<rect x="871" y="223" width="1" height="18" fill="#a9dcc3"/>
<rect x="870" y="232" width="3" height="9" fill="#000"/>
<rect x="871" y="233" width="1" height="7" fill="#53b987"/>
<rect x="876" y="195" width="1" height="39" fill="#a9dcc3"/>
<rect x="875" y="201" width="3" height="32" fill="#000"/>
<rect x="876" y="202" width="1" height="30" fill="#53b987"/>
<rect x="881" y="192" width="1" height="27" fill="#f5a6ad"/>
<rect x="880" y="201" width="3" height="8" fill="#000"/>
<rect x="881" y="202" width="1" height="6" fill="#eb4d5c"/>
<rect x="886" y="185" width="1" height="24" fill="#a9dcc3"/>
<rect x="885" y="189" width="3" height="20" fill="#000"/>
<rect x="886" y="190" width="1" height="18" fill="#53b987"/>
<rect x="891" y="180" width="1" height="26" fill="#f5a6ad"/>
<rect x="890" y="189" width="3" height="9" fill="#000"/>
<rect x="891" y="190" width="1" height="7" fill="#eb4d5c"/>
<rect x="896" y="177" width="1" height="21" fill="#a9dcc3"/>
<rect x="895" y="183" width="3" height="15" fill="#000"/>
<rect x="896" y="184" width="1" height="13" fill="#53b987"/>
<rect x="900" y="151" width="1" height="33" fill="#a9dcc3"/>
<rect x="899" y="154" width="3" height="29" fill="#000"/>
<rect x="900" y="155" width="1" height="27" fill="#53b987"/>
<rect x="905" y="145" width="1" height="16" fill="#a9dcc3"/>
<rect x="904" y="149" width="3" height="5" fill="#000"/>
<rect x="905" y="150" width="1" height="3" fill="#53b987"/>
<rect x="910" y="145" width="1" height="23" fill="#f5a6ad"/>
<rect x="909" y="149" width="3" height="17" fill="#000"/>
<rect x="910" y="150" width="1" height="15" fill="#eb4d5c"/>
<rect x="915" y="164" width="1" height="33" fill="#f5a6ad"/>
<rect x="914" y="166" width="3" height="25" fill="#000"/>
<rect x="915" y="167" width="1" height="23" fill="#eb4d5c"/>
<rect x="920" y="177" width="1" height="22" fill="#f5a6ad"/>
<rect x="919" y="190" width="3" height="4" fill="#000"/>
<rect x="920" y="191" width="1" height="2" fill="#eb4d5c"/>
<rect x="925" y="179" width="1" height="59" fill="#f5a6ad"/>
<rect x="924" y="192" width="3" height="33" fill="#000"/>
<rect x="925" y="193" width="1" height="31" fill="#eb4d5c"/>
<rect x="930" y="211" width="1" height="36" fill="#a9dcc3"/>
<rect x="929" y="213" width="3" height="12" fill="#000"/>
<rect x="930" y="214" width="1" height="10" fill="#53b987"/>
<rect x="934" y="172" width="1" height="43" fill="#a9dcc3"/>
<rect x="933" y="173" width="3" height="41" fill="#000"/>
<rect x="934" y="174" width="1" height="39" fill="#53b987"/>
<rect x="939" y="166" width="1" height="36" fill="#f5a6ad"/>
<rect x="938" y="173" width="3" height="18" fill="#000"/>
<rect x="939" y="174" width="1" height="16" fill="#eb4d5c"/>
<rect x="944" y="179" width="1" height="29" fill="#f5a6ad"/>
<rect x="943" y="190" width="3" height="17" fill="#000"/>
<rect x="944" y="191" width="1" height="15" fill="#eb4d5c"/>
<rect x="949" y="173" width="1" height="40" fill="#a9dcc3"/>
<rect x="948" y="180" width="3" height="27" fill="#000"/>
<rect x="949" y="181" width="1" height="25" fill="#53b987"/>
<rect x="954" y="177" width="1" height="24" fill="#f5a6ad"/>
<rect x="953" y="180" width="3" height="20" fill="#000"/>
<rect x="954" y="181" width="1" height="18" fill="#eb4d5c"/>
<rect x="959" y="191" width="1" height="33" fill="#a9dcc3"/>
<rect x="958" y="191" width="3" height="10" fill="#000"/>
<rect x="959" y="192" width="1" height="8" fill="#53b987"/>
<rect x="964" y="163" width="1" height="42" fill="#a9dcc3"/>
<rect x="963" y="165" width="3" height="27" fill="#000"/>
<rect x="964" y="166" width="1" height="25" fill="#53b987"/>
<rect x="968" y="148" width="1" height="19" fill="#a9dcc3"/>
<rect x="967" y="156" width="3" height="10" fill="#000"/>
<rect x="968" y="157" width="1" height="8" fill="#53b987"/>
<rect x="973" y="151" width="1" height="16" fill="#a9dcc3"/>
<rect x="972" y="155" width="3" height="2" fill="#000"/>
<rect x="978" y="137" width="1" height="21" fill="#a9dcc3"/>
<rect x="977" y="137" width="3" height="18" fill="#000"/>
<rect x="978" y="138" width="1" height="16" fill="#53b987"/>
<rect x="983" y="119" width="1" height="19" fill="#a9dcc3"/>
<rect x="982" y="124" width="3" height="14" fill="#000"/>
<rect x="983" y="125" width="1" height="12" fill="#53b987"/>
<rect x="988" y="118" width="1" height="12" fill="#a9dcc3"/>
<rect x="987" y="122" width="3" height="3" fill="#000"/>
<rect x="988" y="123" width="1" height="1" fill="#53b987"/>
<rect x="993" y="109" width="1" height="14" fill="#a9dcc3"/>
<rect x="992" y="120" width="3" height="3" fill="#000"/>
<rect x="993" y="121" width="1" height="1" fill="#53b987"/>
<rect x="998" y="118" width="1" height="29" fill="#f5a6ad"/>
<rect x="997" y="120" width="3" height="18" fill="#000"/>
<rect x="998" y="121" width="1" height="16" fill="#eb4d5c"/>
<rect x="1003" y="122" width="1" height="20" fill="#a9dcc3"/>
<rect x="1002" y="127" width="3" height="11" fill="#000"/>
<rect x="1003" y="128" width="1" height="9" fill="#53b987"/>
<rect x="1007" y="120" width="1" height="21" fill="#f5a6ad"/>
<rect x="1006" y="127" width="3" height="6" fill="#000"/>
<rect x="1007" y="128" width="1" height="4" fill="#eb4d5c"/>
<rect x="1012" y="126" width="1" height="18" fill="#f5a6ad"/>
<rect x="1011" y="133" width="3" height="8" fill="#000"/>
<rect x="1012" y="134" width="1" height="6" fill="#eb4d5c"/>
<rect x="1017" y="121" width="1" height="21" fill="#a9dcc3"/>
<rect x="1016" y="130" width="3" height="11" fill="#000"/>
<rect x="1017" y="131" width="1" height="9" fill="#53b987"/>
<rect x="1022" y="121" width="1" height="13" fill="#f5a6ad"/>
<rect x="1021" y="130" width="3" height="3" fill="#000"/>
<rect x="1022" y="131" width="1" height="1" fill="#eb4d5c"/>
<rect x="1027" y="120" width="1" height="31" fill="#a9dcc3"/>
<rect x="1026" y="120" width="3" height="13" fill="#000"/>
<rect x="1027" y="121" width="1" height="11" fill="#53b987"/>
<rect x="1032" y="117" width="1" height="20" fill="#a9dcc3"/>
<rect x="1031" y="120" width="3" height="1" fill="#000"/>
<rect x="1037" y="109" width="1" height="15" fill="#a9dcc3"/>
<rect x="1036" y="118" width="3" height="3" fill="#000"/>
<rect x="1037" y="119" width="1" height="1" fill="#53b987"/>
<rect x="1041" y="110" width="1" height="9" fill="#a9dcc3"/>
<rect x="1040" y="111" width="3" height="8" fill="#000"/>
<rect x="1041" y="112" width="1" height="6" fill="#53b987"/>
<rect x="1046" y="109" width="1" height="27" fill="#f5a6ad"/>
<rect x="1045" y="111" width="3" height="12" fill="#000"/>
<rect x="1046" y="112" width="1" height="10" fill="#eb4d5c"/>
<rect x="1051" y="113" width="1" height="17" fill="#a9dcc3"/>
<rect x="1050" y="113" width="3" height="10" fill="#000"/>
<rect x="1051" y="114" width="1" height="8" fill="#53b987"/>
<rect x="1056" y="104" width="1" height="16" fill="#f5a6ad"/>
<rect x="1055" y="113" width="3" height="2" fill="#000"/>
<rect x="1061" y="89" width="1" height="27" fill="#a9dcc3"/>
<rect x="1060" y="89" width="3" height="26" fill="#000"/>
<rect x="1061" y="90" width="1" height="24" fill="#53b987"/>
<rect x="1066" y="75" width="1" height="18" fill="#a9dcc3"/>
<rect x="1065" y="75" width="3" height="15" fill="#000"/>
<rect x="1066" y="76" width="1" height="13" fill="#53b987"/>
<rect x="1071" y="66" width="1" height="11" fill="#a9dcc3"/>
<rect x="1070" y="66" width="3" height="10" fill="#000"/>
<rect x="1071" y="67" width="1" height="8" fill="#53b987"/>
<rect x="1075" y="58" width="1" height="10" fill="#a9dcc3"/>
<rect x="1074" y="58" width="3" height="9" fill="#000"/>
<rect x="1075" y="59" width="1" height="7" fill="#53b987"/>
<rect x="1080" y="55" width="1" height="28" fill="#f5a6ad"/>
<rect x="1079" y="58" width="3" height="15" fill="#000"/>
<rect x="1080" y="59" width="1" height="13" fill="#eb4d5c"/>
<rect x="1085" y="70" width="1" height="22" fill="#f5a6ad"/>
<rect x="1084" y="72" width="3" height="3" fill="#000"/>
<rect x="1085" y="73" width="1" height="1" fill="#eb4d5c"/>
<rect x="1090" y="66" width="1" height="14" fill="#a9dcc3"/>
<rect x="1089" y="71" width="3" height="4" fill="#000"/>
<rect x="1090" y="72" width="1" height="2" fill="#53b987"/>
<rect x="1095" y="59" width="1" height="14" fill="#a9dcc3"/>
<rect x="1094" y="59" width="3" height="13" fill="#000"/>
<rect x="1095" y="60" width="1" height="11" fill="#53b987"/>
<rect x="1100" y="48" width="1" height="17" fill="#f5a6ad"/>
<rect x="1099" y="59" width="3" height="3" fill="#000"/>
<rect x="1100" y="60" width="1" height="1" fill="#eb4d5c"/>
<rect x="1105" y="41" width="1" height="27" fill="#a9dcc3"/>
<rect x="1104" y="43" width="3" height="19" fill="#000"/>
<rect x="1105" y="44" width="1" height="17" fill="#53b987"/>
<rect x="1109" y="41" width="1" height="18" fill="#f5a6ad"/>
<rect x="1108" y="43" width="3" height="9" fill="#000"/>
<rect x="1109" y="44" width="1" height="7" fill="#eb4d5c"/>
<rect x="1114" y="48" width="1" height="19" fill="#a9dcc3"/>
<rect x="1113" y="51" width="3" height="1" fill="#000"/>
<rect x="1119" y="51" width="1" height="28" fill="#f5a6ad"/>
<rect x="1118" y="51" width="3" height="6" fill="#000"/>
<rect x="1119" y="52" width="1" height="4" fill="#eb4d5c"/>
<rect x="1124" y="37" width="1" height="25" fill="#a9dcc3"/>
<rect x="1123" y="42" width="3" height="15" fill="#000"/>
<rect x="1124" y="43" width="1" height="13" fill="#53b987"/>
<rect x="1129" y="32" width="1" height="32" fill="#f5a6ad"/>
<rect x="1128" y="42" width="3" height="21" fill="#000"/>
<rect x="1129" y="43" width="1" height="19" fill="#eb4d5c"/>
<rect x="1134" y="51" width="1" height="19" fill="#f5a6ad"/>
<rect x="1133" y="63" width="3" height="2" fill="#000"/>
<rect x="1139" y="63" width="1" height="54" fill="#f5a6ad"/>
<rect x="1138" y="64" width="3" height="36" fill="#000"/>
<rect x="1139" y="65" width="1" height="34" fill="#eb4d5c"/>
<rect x="1143" y="85" width="1" height="20" fill="#a9dcc3"/>
<rect x="1142" y="94" width="3" height="6" fill="#000"/>
<rect x="1143" y="95" width="1" height="4" fill="#53b987"/>
<rect x="1148" y="80" width="1" height="33" fill="#f5a6ad"/>
<rect x="1147" y="94" width="3" height="15" fill="#000"/>
<rect x="1148" y="95" width="1" height="13" fill="#eb4d5c"/>
<rect x="7" y="581" width="1" height="1" fill="#f2126e"/>
<rect x="12" y="581" width="1" height="1" fill="#f2126e"/>
<rect x="22" y="582" width="1" height="1" fill="#f2126e"/>
<rect x="27" y="582" width="1" height="2" fill="#f2126e"/>
<rect x="31" y="582" width="1" height="1" fill="#f2126e"/>
<rect x="36" y="582" width="1" height="2" fill="#f2126e"/>
<rect x="41" y="582" width="1" height="2" fill="#f2126e"/>
<rect x="46" y="582" width="1" height="6" fill="#f2126e"/>
<rect x="51" y="582" width="1" height="6" fill="#f2126e"/>
<rect x="56" y="582" width="1" height="4" fill="#f2126e"/>
<rect x="61" y="582" width="1" height="3" fill="#f2126e"/>
<rect x="66" y="582" width="1" height="2" fill="#f2126e"/>
<rect x="70" y="582" width="1" height="5" fill="#f2126e"/>
<rect x="75" y="582" width="1" height="6" fill="#f2126e"/>
<rect x="80" y="582" width="1" height="7" fill="#f2126e"/>
<rect x="85" y="582" width="1" height="5" fill="#f2126e"/>
<rect x="90" y="582" width="1" height="4" fill="#f2126e"/>
<rect x="95" y="582" width="1" height="4" fill="#f2126e"/>
<rect x="100" y="582" width="1" height="4" fill="#f2126e"/>
<rect x="104" y="582" width="1" height="3" fill="#f2126e"/>
<rect x="109" y="582" width="1" height="2" fill="#f2126e"/>
<rect x="114" y="581" width="1" height="1" fill="#f2126e"/>
<rect x="119" y="578" width="1" height="4" fill="#f2126e"/>
<rect x="124" y="577" width="1" height="5" fill="#f2126e"/>
<rect x="129" y="577" width="1" height="5" fill="#f2126e"/>
<rect x="134" y="578" width="1" height="4" fill="#f2126e"/>
<rect x="138" y="578" width="1" height="4" fill="#f2126e"/>
<rect x="143" y="578" width="1" height="4" fill="#f2126e"/>
<rect x="148" y="580" width="1" height="2" fill="#f2126e"/>
<rect x="153" y="580" width="1" height="2" fill="#f2126e"/>
<rect x="158" y="579" width="1" height="3" fill="#f2126e"/>
<rect x="163" y="579" width="1" height="3" fill="#f2126e"/>
<rect x="168" y="580" width="1" height="2" fill="#f2126e"/>
<rect x="172" y="581" width="1" height="1" fill="#f2126e"/>
<rect x="177" y="581" width="1" height="1" fill="#f2126e"/>
<rect x="192" y="582" width="1" height="2" fill="#f2126e"/>
<rect x="197" y="582" width="1" height="3" fill="#f2126e"/>
<rect x="202" y="582" width="1" height="5" fill="#f2126e"/>
<rect x="206" y="582" width="1" height="6" fill="#f2126e"/>
<rect x="211" y="582" width="1" height="5" fill="#f2126e"/>
<rect x="216" y="582" width="1" height="4" fill="#f2126e"/>
<rect x="221" y="582" width="1" height="2" fill="#f2126e"/>
<rect x="226" y="582" width="1" height="1" fill="#f2126e"/>
<rect x="236" y="581" width="1" height="1" fill="#f2126e"/>
<rect x="240" y="579" width="1" height="3" fill="#f2126e"/>
<rect x="245" y="578" width="1" height="4" fill="#f2126e"/>
<rect x="250" y="578" width="1" height="4" fill="#f2126e"/>
<rect x="255" y="578" width="1" height="4" fill="#f2126e"/>
<rect x="260" y="578" width="1" height="4" fill="#f2126e"/>
<rect x="265" y="578" width="1" height="4" fill="#f2126e"/>
<rect x="270" y="578" width="1" height="4" fill="#f2126e"/>
<rect x="275" y="578" width="1" height="4" fill="#f2126e"/>
<rect x="279" y="578" width="1" height="4" fill="#f2126e"/>
<rect x="284" y="579" width="1" height="3" fill="#f2126e"/>
<rect x="289" y="580" width="1" height="2" fill="#f2126e"/>
<rect x="294" y="580" width="1" height="2" fill="#f2126e"/>
<rect x="304" y="582" width="1" height="1" fill="#f2126e"/>
<rect x="309" y="582" width="1" height="2" fill="#f2126e"/>
<rect x="313" y="582" width="1" height="2" fill="#f2126e"/>
<rect x="318" y="581" width="1" height="1" fill="#f2126e"/>
<rect x="323" y="579" width="1" height="3" fill="#f2126e"/>
<rect x="328" y="577" width="1" height="5" fill="#f2126e"/>
<rect x="333" y="577" width="1" height="5" fill="#f2126e"/>
<rect x="338" y="577" width="1" height="5" fill="#f2126e"/>
<rect x="343" y="576" width="1" height="6" fill="#f2126e"/>
<rect x="347" y="576" width="1" height="6" fill="#f2126e"/>
<rect x="352" y="576" width="1" height="6" fill="#f2126e"/>
<rect x="357" y="576" width="1" height="6" fill="#f2126e"/>
<rect x="362" y="577" width="1" height="5" fill="#f2126e"/>
<rect x="367" y="579" width="1" height="3" fill="#f2126e"/>
<rect x="372" y="580" width="1" height="2" fill="#f2126e"/>
<rect x="377" y="581" width="1" height="1" fill="#f2126e"/>
<rect x="381" y="582" width="1" height="1" fill="#f2126e"/>
<rect x="386" y="582" width="1" height="1" fill="#f2126e"/>
<rect x="391" y="582" width="1" height="1" fill="#f2126e"/>
<rect x="396" y="582" width="1" height="2" fill="#f2126e"/>
<rect x="401" y="582" width="1" height="1" fill="#f2126e"/>
<rect x="415" y="581" width="1" height="1" fill="#f2126e"/>
<rect x="420" y="581" width="1" height="1" fill="#f2126e"/>
<rect x="425" y="581" width="1" height="1" fill="#f2126e"/>
<rect x="435" y="582" width="1" height="3" fill="#f2126e"/>
<rect x="440" y="582" width="1" height="4" fill="#f2126e"/>
<rect x="445" y="582" width="1" height="5" fill="#f2126e"/>
<rect x="449" y="582" width="1" height="7" fill="#f2126e"/>
<rect x="454" y="582" width="1" height="8" fill="#f2126e"/>
<rect x="459" y="582" width="1" height="8" fill="#f2126e"/>
<rect x="464" y="582" width="1" height="7" fill="#f2126e"/>
<rect x="469" y="582" width="1" height="6" fill="#f2126e"/>
<rect x="474" y="582" width="1" height="3" fill="#f2126e"/>
<rect x="479" y="582" width="1" height="2" fill="#f2126e"/>
<rect x="483" y="582" width="1" height="1" fill="#f2126e"/>
<rect x="488" y="582" width="1" height="1" fill="#f2126e"/>
<rect x="493" y="580" width="1" height="2" fill="#f2126e"/>
<rect x="498" y="578" width="1" height="4" fill="#f2126e"/>
<rect x="503" y="578" width="1" height="4" fill="#f2126e"/>
<rect x="508" y="579" width="1" height="3" fill="#f2126e"/>
<rect x="513" y="579" width="1" height="3" fill="#f2126e"/>
<rect x="517" y="580" width="1" height="2" fill="#f2126e"/>
<rect x="522" y="581" width="1" height="1" fill="#f2126e"/>
<rect x="527" y="582" width="1" height="1" fill="#f2126e"/>
<rect x="532" y="582" width="1" height="2" fill="#f2126e"/>
<rect x="537" y="582" width="1" height="4" fill="#f2126e"/>
<rect x="542" y="582" width="1" height="2" fill="#f2126e"/>
<rect x="547" y="581" width="1" height="1" fill="#f2126e"/>
<rect x="552" y="579" width="1" height="3" fill="#f2126e"/>
<rect x="556" y="576" width="1" height="6" fill="#f2126e"/>
<rect x="561" y="575" width="1" height="7" fill="#f2126e"/>
<rect x="566" y="575" width="1" height="7" fill="#f2126e"/>
<rect x="571" y="575" width="1" height="7" fill="#f2126e"/>
<rect x="576" y="575" width="1" height="7" fill="#f2126e"/>
<rect x="581" y="574" width="1" height="8" fill="#f2126e"/>
<rect x="586" y="574" width="1" height="8" fill="#f2126e"/>
<rect x="590" y="575" width="1" height="7" fill="#f2126e"/>
<rect x="595" y="575" width="1" height="7" fill="#f2126e"/>
<rect x="600" y="576" width="1" height="6" fill="#f2126e"/>
<rect x="605" y="576" width="1" height="6" fill="#f2126e"/>
<rect x="610" y="575" width="1" height="7" fill="#f2126e"/>
<rect x="615" y="574" width="1" height="8" fill="#f2126e"/>
<rect x="620" y="575" width="1" height="7" fill="#f2126e"/>
<rect x="624" y="576" width="1" height="6" fill="#f2126e"/>
<rect x="629" y="575" width="1" height="7" fill="#f2126e"/>
<rect x="634" y="577" width="1" height="5" fill="#f2126e"/>
<rect x="639" y="579" width="1" height="3" fill="#f2126e"/>
<rect x="649" y="582" width="1" height="2" fill="#f2126e"/>
<rect x="654" y="582" width="1" height="8" fill="#f2126e"/>
<rect x="658" y="582" width="1" height="19" fill="#f2126e"/>
<rect x="663" y="582" width="1" height="20" fill="#f2126e"/>
<rect x="668" y="582" width="1" height="23" fill="#f2126e"/>
<rect x="673" y="582" width="1" height="29" fill="#f2126e"/>
<rect x="678" y="582" width="1" height="29" fill="#f2126e"/>
<rect x="683" y="582" width="1" height="25" fill="#f2126e"/>
<rect x="688" y="582" width="1" height="21" fill="#f2126e"/>
<rect x="692" y="582" width="1" height="14" fill="#f2126e"/>
<rect x="697" y="582" width="1" height="5" fill="#f2126e"/>
<rect x="707" y="580" width="1" height="2" fill="#f2126e"/>
<rect x="712" y="578" width="1" height="4" fill="#f2126e"/>
<rect x="717" y="577" width="1" height="5" fill="#f2126e"/>
<rect x="722" y="577" width="1" height="5" fill="#f2126e"/>
<rect x="726" y="574" width="1" height="8" fill="#f2126e"/>
<rect x="731" y="570" width="1" height="12" fill="#f2126e"/>
<rect x="736" y="570" width="1" height="12" fill="#f2126e"/>
<rect x="741" y="572" width="1" height="10" fill="#f2126e"/>
<rect x="746" y="577" width="1" height="5" fill="#f2126e"/>
<rect x="751" y="579" width="1" height="3" fill="#f2126e"/>
<rect x="756" y="579" width="1" height="3" fill="#f2126e"/>
<rect x="761" y="578" width="1" height="4" fill="#f2126e"/>
<rect x="765" y="578" width="1" height="4" fill="#f2126e"/>
<rect x="770" y="577" width="1" height="5" fill="#f2126e"/>
<rect x="775" y="574" width="1" height="8" fill="#f2126e"/>
<rect x="780" y="571" width="1" height="11" fill="#f2126e"/>
<rect x="785" y="573" width="1" height="9" fill="#f2126e"/>
<rect x="790" y="575" width="1" height="7" fill="#f2126e"/>
<rect x="795" y="576" width="1" height="6" fill="#f2126e"/>
<rect x="799" y="578" width="1" height="4" fill="#f2126e"/>
<rect x="804" y="582" width="1" height="1" fill="#f2126e"/>
<rect x="809" y="582" width="1" height="5" fill="#f2126e"/>
<rect x="814" y="582" width="1" height="8" fill="#f2126e"/>
<rect x="819" y="582" width="1" height="14" fill="#f2126e"/>
<rect x="824" y="582" width="1" height="21" fill="#f2126e"/>
<rect x="829" y="582" width="1" height="19" fill="#f2126e"/>
<rect x="833" y="582" width="1" height="22" fill="#f2126e"/>
<rect x="838" y="582" width="1" height="24" fill="#f2126e"/>
<rect x="843" y="582" width="1" height="23" fill="#f2126e"/>
<rect x="848" y="582" width="1" height="24" fill="#f2126e"/>
<rect x="853" y="582" width="1" height="22" fill="#f2126e"/>
<rect x="858" y="582" width="1" height="17" fill="#f2126e"/>
<rect x="863" y="582" width="1" height="12" fill="#f2126e"/>
<rect x="867" y="582" width="1" height="12" fill="#f2126e"/>
<rect x="872" y="582" width="1" height="10" fill="#f2126e"/>
<rect x="877" y="582" width="1" height="5" fill="#f2126e"/>
<rect x="882" y="582" width="1" height="2" fill="#f2126e"/>
<rect x="887" y="579" width="1" height="3" fill="#f2126e"/>
<rect x="892" y="577" width="1" height="5" fill="#f2126e"/>
<rect x="897" y="575" width="1" height="7" fill="#f2126e"/>
<rect x="901" y="570" width="1" height="12" fill="#f2126e"/>
<rect x="906" y="567" width="1" height="15" fill="#f2126e"/>
<rect x="911" y="567" width="1" height="15" fill="#f2126e"/>
<rect x="916" y="571" width="1" height="11" fill="#f2126e"/>
<rect x="921" y="574" width="1" height="8" fill="#f2126e"/>
<rect x="926" y="579" width="1" height="3" fill="#f2126e"/>
<rect x="935" y="579" width="1" height="3" fill="#f2126e"/>
<rect x="940" y="579" width="1" height="3" fill="#f2126e"/>
<rect x="945" y="581" width="1" height="1" fill="#f2126e"/>
<rect x="950" y="579" width="1" height="3" fill="#f2126e"/>
<rect x="955" y="580" width="1" height="2" fill="#f2126e"/>
<rect x="960" y="580" width="1" height="2" fill="#f2126e"/>
<rect x="965" y="577" width="1" height="5" fill="#f2126e"/>
<rect x="969" y="575" width="1" height="7" fill="#f2126e"/>
<rect x="974" y="573" width="1" height="9" fill="#f2126e"/>
<rect x="979" y="571" width="1" height="11" fill="#f2126e"/>
<rect x="984" y="569" width="1" height="13" fill="#f2126e"/>
<rect x="989" y="568" width="1" height="14" fill="#f2126e"/>
<rect x="994" y="568" width="1" height="14" fill="#f2126e"/>
<rect x="999" y="571" width="1" height="11" fill="#f2126e"/>
<rect x="1004" y="572" width="1" height="10" fill="#f2126e"/>
<rect x="1008" y="574" width="1" height="8" fill="#f2126e"/>
<rect x="1013" y="577" width="1" height="5" fill="#f2126e"/>
<rect x="1018" y="578" width="1" height="4" fill="#f2126e"/>
<rect x="1023" y="579" width="1" height="3" fill="#f2126e"/>
<rect x="1028" y="579" width="1" height="3" fill="#f2126e"/>
<rect x="1033" y="579" width="1" height="3" fill="#f2126e"/>
<rect x="1038" y="580" width="1" height="2" fill="#f2126e"/>
<rect x="1042" y="579" width="1" height="3" fill="#f2126e"/>
<rect x="1047" y="581" width="1" height="1" fill="#f2126e"/>
<rect x="1052" y="581" width="1" height="1" fill="#f2126e"/>
<rect x="1062" y="579" width="1" height="3" fill="#f2126e"/>
<rect x="1067" y="577" width="1" height="5" fill="#f2126e"/>
<rect x="1072" y="575" width="1" height="7" fill="#f2126e"/>
<rect x="1076" y="574" width="1" height="8" fill="#f2126e"/>
<rect x="1081" y="575" width="1" height="7" fill="#f2126e"/>
<rect x="1086" y="577" width="1" height="5" fill="#f2126e"/>
<rect x="1091" y="578" width="1" height="4" fill="#f2126e"/>
<rect x="1096" y="578" width="1" height="4" fill="#f2126e"/>
<rect x="1101" y="579" width="1" height="3" fill="#f2126e"/>
<rect x="1106" y="578" width="1" height="4" fill="#f2126e"/>
<rect x="1110" y="579" width="1" height="3" fill="#f2126e"/>
<rect x="1115" y="580" width="1" height="2" fill="#f2126e"/>
<rect x="1120" y="581" width="1" height="1" fill="#f2126e"/>
<rect x="1125" y="581" width="1" height="1" fill="#f2126e"/>
<rect x="1130" y="582" width="1" height="2" fill="#f2126e"/>
<rect x="1135" y="582" width="1" height="4" fill="#f2126e"/>
<rect x="1140" y="582" width="1" height="9" fill="#f2126e"/>
<rect x="1144" y="582" width="1" height="11" fill="#f2126e"/>
<rect x="1149" y="582" width="1" height="14" fill="#f2126e"/>
<polyline points="6.4,561.6 11.3,561.7 16.1,562.5 21.0,564.1 25.8,565.3 30.7,565.2 35.6,566.0 40.4,566.4 45.3,571.6 50.1,573.7 55.0,573.1 59.9,572.8 64.7,572.4 69.6,576.1 74.4,578.9 79.3,581.2 84.2,580.4 89.0,580.9 93.9,581.2 98.7,582.0 103.6,582.0 108.5,581.3 113.3,578.8 118.2,575.0 123.0,572.4 127.9,570.8 132.8,570.6 137.6,570.4 142.5,569.6 147.3,570.9 152.2,569.9 157.1,568.7 161.9,567.9 166.8,568.7 171.6,568.6 176.5,569.0 181.4,569.3 186.2,570.0 191.1,571.9 195.9,573.3 200.8,576.6 205.7,578.9 210.5,579.3 215.4,579.5 220.2,578.5 225.1,577.5 230.0,576.3 234.8,575.3 239.7,572.8 244.5,570.9 249.4,569.5 254.3,568.6 259.1,567.5 264.0,567.1 268.8,566.1 273.7,564.8 278.6,564.0 283.4,563.6 288.3,564.2 293.1,564.4 298.0,566.3 302.9,567.6 307.7,569.1 312.6,569.6 317.4,566.3 322.3,563.6 327.2,560.7 332.0,559.3 336.9,557.7 341.7,555.8 346.6,553.9 351.5,552.7 356.3,551.1 361.2,551.3 366.0,551.9 370.9,552.5 375.8,553.9 380.6,556.2 385.5,555.6 390.3,556.7 395.2,557.5 400.1,556.5 404.9,555.8 409.8,555.6 414.6,554.9 419.5,554.7 424.4,554.8 429.2,554.8 434.1,558.8 438.9,560.6 443.8,562.7 448.7,567.1 453.5,570.3 458.4,572.1 463.2,572.7 468.1,572.8 473.0,571.0 477.8,570.5 482.7,569.6 487.5,569.6 492.4,566.6 497.3,563.4 502.1,562.2 507.0,562.0 511.8,561.9 516.7,562.2 521.6,563.5 526.4,564.9 531.3,566.4 536.1,569.5 541.0,568.1 545.9,565.1 550.7,562.2 555.6,558.2 560.4,554.8 565.3,552.7 570.2,551.4 575.0,549.3 579.9,546.5 584.7,544.6 589.6,544.0 594.5,542.2 599.3,541.3 604.2,540.0 609.0,536.9 613.9,534.2 618.8,533.4 623.6,533.3 628.5,530.8 633.3,530.6 638.2,532.7 643.1,535.1 647.9,537.3 652.8,545.3 657.6,561.0 662.5,567.9 667.4,576.2 672.2,589.5 677.1,596.8 681.9,599.2 686.8,599.7 691.7,596.3 696.5,589.1 701.4,584.5 706.2,580.9 711.1,577.8 716.0,576.5 720.8,574.3 725.7,569.3 730.5,562.5 735.4,560.2 740.3,559.5 745.1,562.9 750.0,564.3 754.8,563.4 759.7,561.9 764.6,560.8 769.4,558.5 774.3,553.2 779.1,548.1 784.0,547.3 788.9,547.4 793.7,547.3 798.6,548.5 803.4,554.0 808.3,558.4 813.2,563.2 818.0,573.0 822.9,585.2 827.7,587.6 832.6,596.4 837.5,605.0 842.3,608.9 847.2,616.6 852.0,620.3 856.9,619.3 861.8,617.3 866.6,620.0 871.5,620.6 876.3,616.6 881.2,613.9 886.1,608.9 890.9,605.8 895.8,601.1 900.6,593.5 905.5,586.7 910.4,583.5 915.2,584.2 920.1,585.0 924.9,589.9 929.8,592.1 934.7,588.4 939.5,587.7 944.4,589.3 949.2,586.9 954.1,587.6 959.0,586.9 963.8,582.9 968.7,578.5 973.5,574.9 978.4,569.9 983.3,564.4 988.1,560.0 993.0,556.5 997.8,556.4 1002.7,555.2 1007.6,555.4 1012.4,556.8 1017.3,556.8 1022.1,557.4 1027.0,556.5 1031.9,556.1 1036.7,555.8 1041.6,554.9 1046.4,556.1 1051.3,556.0 1056.2,556.4 1061.0,553.7 1065.9,550.0 1070.7,546.3 1075.6,542.8 1080.5,542.3 1085.3,542.7 1090.2,543.0 1095.0,542.1 1099.9,542.1 1104.8,540.2 1109.6,540.2 1114.5,540.6 1119.3,542.1 1124.2,541.9 1129.1,545.0 1133.9,547.9 1138.8,555.2 1143.6,560.6 1148.5,567.0" fill="none" stroke="#2196f3" stroke-width="1.1" shape-rendering="geometricPrecision"/>
<polyline points="6.4,562.7 11.3,562.5 16.1,562.5 21.0,562.8 25.8,563.3 30.7,563.7 35.6,564.2 40.4,564.6 45.3,566.0 50.1,567.6 55.0,568.7 59.9,569.5 64.7,570.1 69.6,571.3 74.4,572.8 79.3,574.5 84.2,575.7 89.0,576.7 93.9,577.6 98.7,578.5 103.6,579.2 108.5,579.6 113.3,579.5 118.2,578.6 123.0,577.3 127.9,576.0 132.8,574.9 137.6,574.0 142.5,573.1 147.3,572.7 152.2,572.1 157.1,571.5 161.9,570.7 166.8,570.3 171.6,570.0 176.5,569.8 181.4,569.7 186.2,569.8 191.1,570.2 195.9,570.8 200.8,572.0 205.7,573.4 210.5,574.6 215.4,575.5 220.2,576.1 225.1,576.4 230.0,576.4 234.8,576.2 239.7,575.5 244.5,574.6 249.4,573.6 254.3,572.6 259.1,571.6 264.0,570.7 268.8,569.7 273.7,568.8 278.6,567.8 283.4,567.0 288.3,566.4 293.1,566.0 298.0,566.1 302.9,566.4 307.7,566.9 312.6,567.4 317.4,567.2 322.3,566.5 327.2,565.3 332.0,564.1 336.9,562.8 341.7,561.4 346.6,559.9 351.5,558.5 356.3,557.0 361.2,555.9 366.0,555.1 370.9,554.6 375.8,554.4 380.6,554.8 385.5,555.0 390.3,555.3 395.2,555.7 400.1,555.9 404.9,555.9 409.8,555.8 414.6,555.6 419.5,555.5 424.4,555.3 429.2,555.2 434.1,555.9 438.9,556.9 443.8,558.0 448.7,559.8 453.5,561.9 458.4,564.0 463.2,565.7 468.1,567.1 473.0,567.9 477.8,568.4 482.7,568.6 487.5,568.8 492.4,568.4 497.3,567.4 502.1,566.4 507.0,565.5 511.8,564.8 516.7,564.3 521.6,564.1 526.4,564.3 531.3,564.7 536.1,565.7 541.0,566.1 545.9,565.9 550.7,565.2 555.6,563.8 560.4,562.0 565.3,560.1 570.2,558.4 575.0,556.6 579.9,554.6 584.7,552.6 589.6,550.9 594.5,549.1 599.3,547.6 604.2,546.0 609.0,544.2 613.9,542.2 618.8,540.5 623.6,539.0 628.5,537.4 633.3,536.0 638.2,535.3 643.1,535.3 647.9,535.7 652.8,537.6 657.6,542.3 662.5,547.4 667.4,553.2 672.2,560.4 677.1,567.7 681.9,574.0 686.8,579.1 691.7,582.6 696.5,583.9 701.4,584.0 706.2,583.4 711.1,582.3 716.0,581.1 720.8,579.7 725.7,577.7 730.5,574.6 735.4,571.7 740.3,569.3 745.1,568.0 750.0,567.3 754.8,566.5 759.7,565.6 764.6,564.6 769.4,563.4 774.3,561.4 779.1,558.7 784.0,556.4 788.9,554.6 793.7,553.1 798.6,552.2 803.4,552.6 808.3,553.7 813.2,555.6 818.0,559.1 822.9,564.3 827.7,569.0 832.6,574.5 837.5,580.6 842.3,586.3 847.2,592.3 852.0,597.9 856.9,602.2 861.8,605.2 866.6,608.2 871.5,610.7 876.3,611.8 881.2,612.3 886.1,611.6 890.9,610.4 895.8,608.6 900.6,605.6 905.5,601.8 910.4,598.1 915.2,595.4 920.1,593.3 924.9,592.6 929.8,592.5 934.7,591.7 939.5,590.9 944.4,590.6 949.2,589.8 954.1,589.4 959.0,588.9 963.8,587.7 968.7,585.9 973.5,583.7 978.4,580.9 983.3,577.6 988.1,574.1 993.0,570.6 997.8,567.7 1002.7,565.2 1007.6,563.3 1012.4,562.0 1017.3,560.9 1022.1,560.2 1027.0,559.5 1031.9,558.8 1036.7,558.2 1041.6,557.5 1046.4,557.2 1051.3,557.0 1056.2,556.9 1061.0,556.2 1065.9,555.0 1070.7,553.3 1075.6,551.2 1080.5,549.4 1085.3,548.1 1090.2,547.0 1095.0,546.0 1099.9,545.3 1104.8,544.2 1109.6,543.4 1114.5,542.9 1119.3,542.7 1124.2,542.6 1129.1,543.0 1133.9,544.0 1138.8,546.3 1143.6,549.1 1148.5,552.7" fill="none" stroke="#ff6f00" stroke-width="1.1" shape-rendering="geometricPrecision"/>
<!-- axes -->
<rect x="1220" y="6" width="1" height="622" fill="#555"/>
<rect x="5" y="524" width="1215" height="1" fill="#555"/>
<rect x="5" y="628" width="1216" height="1" fill="#555"/>
<rect x="5" y="647" width="1273" height="1" fill="#e8ecf0"/>
<rect x="1130" y="653" width="1" height="20" fill="#e0e3eb"/>
<rect x="326" y="653" width="1" height="20" fill="#e0e3eb"/>
<!-- price ticks -->
<g fill="#555">
<rect x="1221" y="16" width="3" height="1"/><rect x="1221" y="156" width="3" height="1"/>
<rect x="1221" y="202" width="3" height="1"/><rect x="1221" y="249" width="3" height="1"/>
<rect x="1221" y="295" width="3" height="1"/><rect x="1221" y="342" width="3" height="1"/>
<rect x="1221" y="388" width="3" height="1"/><rect x="1221" y="434" width="3" height="1"/>
<rect x="1221" y="481" width="3" height="1"/>
<rect x="1221" y="543" width="3" height="1"/><rect x="1221" y="581" width="3" height="1"/><rect x="1221" y="620" width="3" height="1"/>
<rect x="12" y="629" width="1" height="4"/><rect x="124" y="629" width="1" height="4"/><rect x="226" y="629" width="1" height="4"/>
<rect x="333" y="629" width="1" height="4"/><rect x="445" y="629" width="1" height="4"/><rect x="542" y="629" width="1" height="4"/>
<rect x="649" y="629" width="1" height="4"/><rect x="746" y="629" width="1" height="4"/><rect x="848" y="629" width="1" height="4"/>
<rect x="950" y="629" width="1" height="4"/><rect x="1062" y="629" width="1" height="4"/><rect x="1164" y="629" width="1" height="4"/>
</g>
</svg>
<!-- price labels -->
<div class="pl" style="top:12px">7400.0</div>
<div class="pl" style="top:152px">6800.0</div>
<div class="pl" style="top:198px">6600.0</div>
<div class="pl" style="top:245px">6400.0</div>
<div class="pl" style="top:291px">6200.0</div>
<div class="pl" style="top:338px">6000.0</div>
<div class="pl" style="top:384px">5800.0</div>
<div class="pl" style="top:430px">5600.0</div>
<div class="pl" style="top:477px">5400.0</div>
<div class="pl" style="top:539px">100.0000</div>
<div class="pl" style="top:577px">0.0000</div>
<div class="pl" style="top:616px;left:1227px">-100.0000</div>
<div class="pb" style="top:56px"><span>7200.0</span></div>
<div class="pb" style="top:117px"><span>7000.0</span></div>
<div class="pb" style="top:218px"><span>6500.0</span></div>
<div class="pb" style="top:101px;background:#eb4d5c"><span>7005.5</span></div>
<div class="abs" style="left:1221px;top:63px;width:3px;height:1px;background:#fff"></div>
<div class="abs" style="left:1221px;top:108px;width:3px;height:1px;background:#fff"></div>
<div class="abs" style="left:1221px;top:124px;width:3px;height:1px;background:#fff"></div>
<div class="abs" style="left:1221px;top:225px;width:3px;height:1px;background:#fff"></div>
<!-- time labels -->
<div style="position:absolute;left:5px;top:600px;width:1215px;height:48px;overflow:hidden">
<div class="tl" style="left:-3px;top:34px">Aug</div>
</div>
<div class="tl" style="left:115px">Sep</div>
<div class="tl" style="left:218px">Oct</div>
<div class="tl" style="left:323px">Nov</div>
<div class="tl" style="left:436px">Dec</div>
<div class="tl" style="left:530px;color:#333;font-weight:bold">2018</div>
<div class="tl" style="left:640px">Feb</div>
<div class="tl" style="left:736px">Mar</div>
<div class="tl" style="left:840px">Apr</div>
<div class="tl" style="left:940px">May</div>
<div class="tl" style="left:1054px">Jun</div>
<div class="tl" style="left:1158px">Jul</div>
<!-- legend -->
<div class="abs" style="left:10px;top:18px;width:11px;height:11px;border:1px solid #555;border-radius:2px;"></div>
<div class="abs" style="left:12px;top:24px;width:9px;height:1px;background:#555;"></div>
<svg width="1278" height="685" style="pointer-events:none">
<polygon points="31,20 43,20 39.3,26 43,32 31,32" fill="#c8cbce"/>
<polygon points="229,24 237,24 233,28" fill="#c8c8c8"/>
<polygon points="92,45 100,45 96,49" fill="#c8c8c8"/>
<polygon points="99,66 107,66 103,70" fill="#c8c8c8"/>
<polygon points="140,540 148,540 144,544" fill="#c8c8c8"/>
<circle cx="1205.9" cy="23.9" r="7.3" fill="none" stroke="#fd8b3f" stroke-width="1.6" shape-rendering="geometricPrecision"/>
<path d="M1205 19.2 H1206.8 L1206.4 25.5 H1205.4 Z" fill="#fd9a58" shape-rendering="geometricPrecision"/>
<rect x="1205.4" y="27" width="1.2" height="1.2" fill="#fd8b3f"/>
</svg>
<div class="t" style="left:48px;top:19px;font-size:15.6px;color:#2f3136;-webkit-text-stroke:0.45px #2f3136;">US Nas 100, 1D, OANDA</div>
<svg class="ic" width="14" height="14" style="left:248px;top:21px"><use href="#i-eye"/></svg><svg class="ic" width="14" height="14" style="left:265px;top:21px"><use href="#i-gear"/></svg>
<div class="t ohlc" style="left:287px;color:#555;">O</div>
<div class="t ohlc v" style="left:299px;">7065.0</div>
<div class="t ohlc" style="left:355px;color:#555;">H</div>
<div class="t ohlc v" style="left:367px;">7126.4</div>
<div class="t ohlc" style="left:424px;color:#555;">L</div>
<div class="t ohlc v" style="left:432px;">6988.4</div>
<div class="t ohlc" style="left:489px;color:#555;">C</div>
<div class="t ohlc v" style="left:500px;">7005.5</div>

<div class="t" style="left:10px;top:41px;font-size:12px;color:#3d3d3d;-webkit-text-stroke:0.2px #3d3d3d;">MA (50, close)</div>
<svg class="ic" width="14" height="14" style="left:110px;top:41px"><use href="#i-eye"/></svg><svg class="ic" width="14" height="14" style="left:127px;top:41px"><use href="#i-gear"/></svg><svg class="ic" width="14" height="14" style="left:144px;top:41px"><use href="#i-plus"/></svg><svg class="ic" width="14" height="14" style="left:161px;top:41px"><use href="#i-x"/></svg>
<div class="t val" style="left:183px;top:42px;color:#ff0000;">6951.8910</div>

<div class="t" style="left:10px;top:62px;font-size:12px;color:#3d3d3d;-webkit-text-stroke:0.2px #3d3d3d;">MA (200, close)</div>
<svg class="ic" width="14" height="14" style="left:116px;top:62px"><use href="#i-eye"/></svg><svg class="ic" width="14" height="14" style="left:133px;top:62px"><use href="#i-gear"/></svg><svg class="ic" width="14" height="14" style="left:150px;top:62px"><use href="#i-plus"/></svg><svg class="ic" width="14" height="14" style="left:167px;top:62px"><use href="#i-x"/></svg>
<div class="t val" style="left:189px;top:63px;color:#3559aa;">6606.8660</div>

<div class="t" style="left:10px;top:535px;font-size:12px;color:#3d3d3d;-webkit-text-stroke:0.2px #3d3d3d;">MACD (12, 26, close, 9)</div>
<svg class="ic" width="14" height="14" style="left:158px;top:535px"><use href="#i-eye"/></svg><svg class="ic" width="14" height="14" style="left:175px;top:535px"><use href="#i-gear"/></svg><svg class="ic" width="14" height="14" style="left:192px;top:535px"><use href="#i-plus"/></svg><svg class="ic" width="14" height="14" style="left:209px;top:535px"><use href="#i-x"/></svg>
<div class="t val" style="left:231px;top:536px;color:#f7106c;">-36.9732</div>
<div class="t val" style="left:285px;top:536px;color:#2196f3;">38.4187</div>
<div class="t val" style="left:335px;top:536px;color:#ff6d00;">75.3919</div>

<!-- bottom toolbar -->
<div class="bt" style="left:18px">1D</div>
<div class="bt" style="left:49px">5D</div>
<div class="bt" style="left:79px">1Mo</div>
<div class="bt" style="left:120px">3Mo</div>
<div class="bt" style="left:159px">6Mo</div>
<div class="bt" style="left:199px">YTD</div>
<div class="bt" style="left:239px">1Y</div>
<div class="bt" style="left:269px">5Y</div>
<div class="bt" style="left:299px">All</div>
<div class="bt" style="left:341px;letter-spacing:0.8px">Go to...</div>
<div class="bt" style="left:1026px;letter-spacing:0.1px">18:13:38 (UTC)</div>
<div class="bt" style="left:1144px">%</div>
<div class="bt" style="left:1172px">log</div>
<div class="bt" style="left:1207px;color:#2196f3;letter-spacing:0.6px">auto</div>
<svg width="1278" height="685" style="pointer-events:none">
<g transform="translate(1258,664)" fill="#4b4e57" shape-rendering="geometricPrecision">
<circle r="5" fill="none" stroke="#4b4e57" stroke-width="2.4"/>
<rect x="-1.3" y="-7.5" width="2.6" height="15"/>
<rect x="-1.3" y="-7.5" width="2.6" height="15" transform="rotate(45)"/>
<rect x="-1.3" y="-7.5" width="2.6" height="15" transform="rotate(90)"/>
<rect x="-1.3" y="-7.5" width="2.6" height="15" transform="rotate(135)"/>
<circle r="2.4" fill="#fff"/>
</g>
</svg>
</body></html>
